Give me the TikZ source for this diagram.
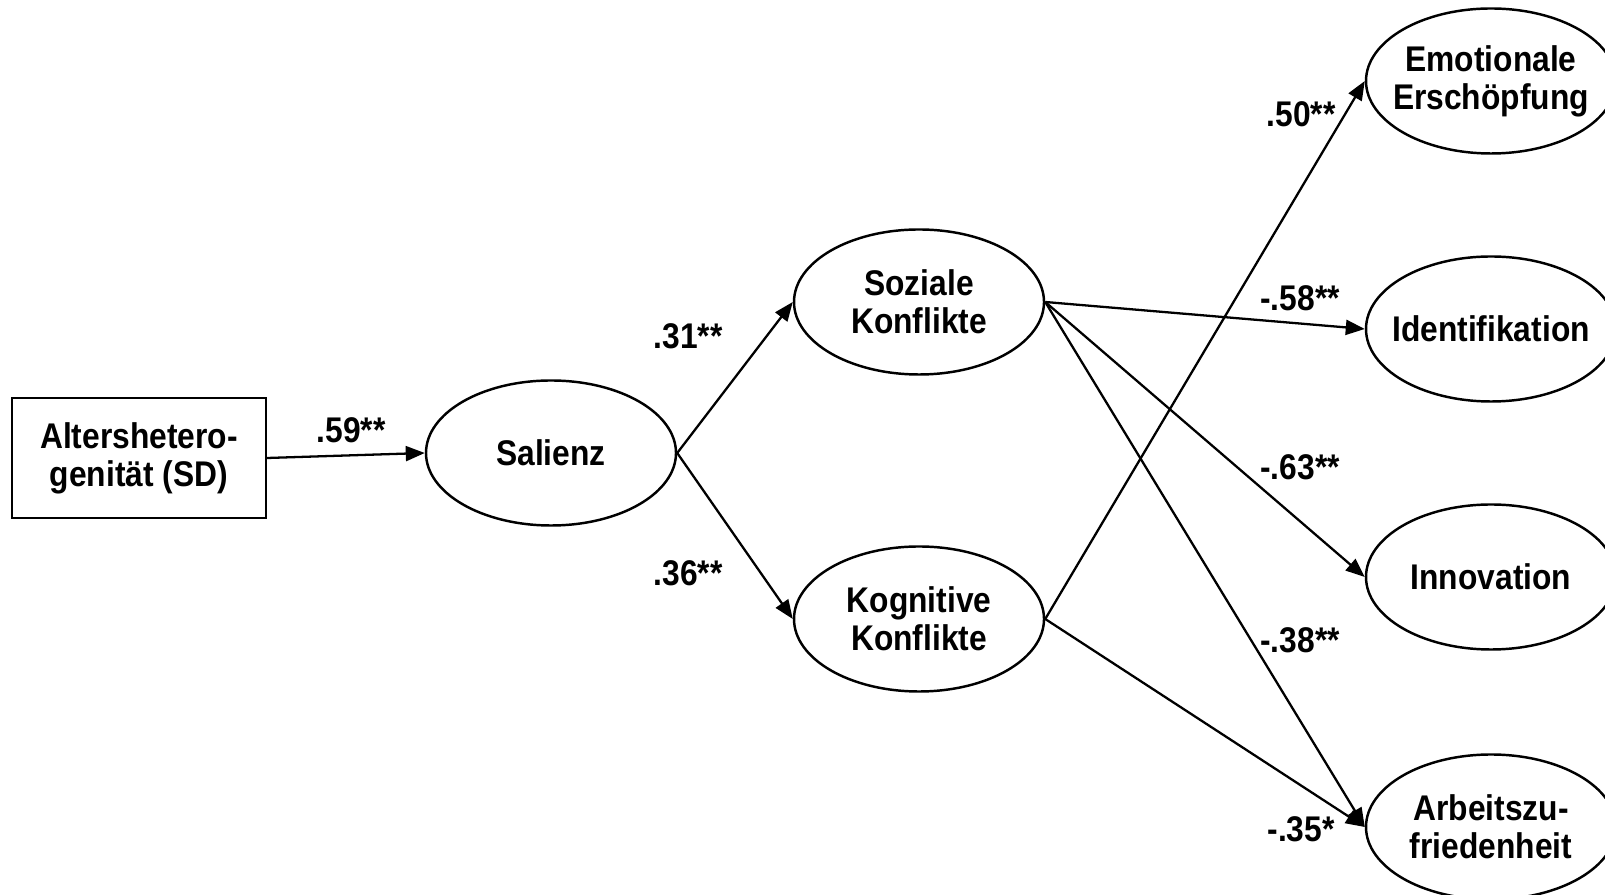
\documentclass[tikz,border=0pt]{standalone}
\usepackage{fontspec}
\setmainfont{Liberation Sans}[FakeStretch=0.89]
\usetikzlibrary{arrows.meta, shapes.geometric, positioning}

\begin{document}
\begin{tikzpicture}[
    font=\fontsize{20.3}{21.6}\selectfont\bfseries,
    latent/.style={ellipse, draw, line width=1.4pt, minimum width=5cm, minimum height=2.9cm, inner xsep=-0.8cm, inner ysep=0pt, align=center},
    manifest/.style={rectangle, draw, line width=1.3pt, minimum width=5.08cm, minimum height=2.4cm, align=center},
    effect/.style={-{Triangle[length=3.8mm, width=3mm]}, line width=1.3pt},
    coef/.style={inner sep=0pt}]

      \useasboundingbox (0, 0) rectangle (32.1, 17.9);
      \clip (0, 0) rectangle (32.1, 17.9);

      % variables
      \node[manifest] (alter) at (2.78, 8.74) {Altershetero-\\genität (SD)};
      \node[latent] (salienz) at (11.02, 8.84) {Salienz};
      \node[latent] (sozial) at (18.38, 11.86) {Soziale\\Konflikte};
      \node[latent] (kognitiv) at (18.38, 5.52) {Kognitive\\Konflikte};
      \node[latent] (emo) at (29.82, 16.28) {Emotionale\\Erschöpfung};
      \node[latent] (ident) at (29.82, 11.32) {Identifikation};
      \node[latent] (innov) at (29.82, 6.36) {Innovation};
      \node[latent] (zufr) at (29.82, 1.36) {Arbeitszu-\\friedenheit};

      % paths
      \draw[effect] (alter.east) -- (salienz.west);
      \draw[effect] (salienz.east) -- (sozial.west);
      \draw[effect] (salienz.east) -- (kognitiv.west);
      \draw[effect] (sozial.east) -- (ident.west);
      \draw[effect] (sozial.east) -- (innov.west);
      \draw[effect] (sozial.east) -- (zufr.west);
      \draw[effect] (kognitiv.east) -- (emo.west);
      \draw[effect] (kognitiv.east) -- (zufr.west);

      % coefficients
      \node[coef] (c59) at (7.02, 9.30) {.59**};
      \node[coef] (c31) at (13.76, 11.18) {.31**};
      \node[coef] (c36) at (13.76, 6.44) {.36**};
      \node[coef] (c50) at (26.02, 15.62) {.50**};
      \node[coef] (c58) at (26.00, 11.94) {-.58**};
      \node[coef] (c63) at (26.00, 8.56) {-.63**};
      \node[coef] (c38) at (26.00, 5.10) {-.38**};
      \node[coef] (c35) at (26.02, 1.32) {-.35*};

    \end{tikzpicture}
\end{document}
